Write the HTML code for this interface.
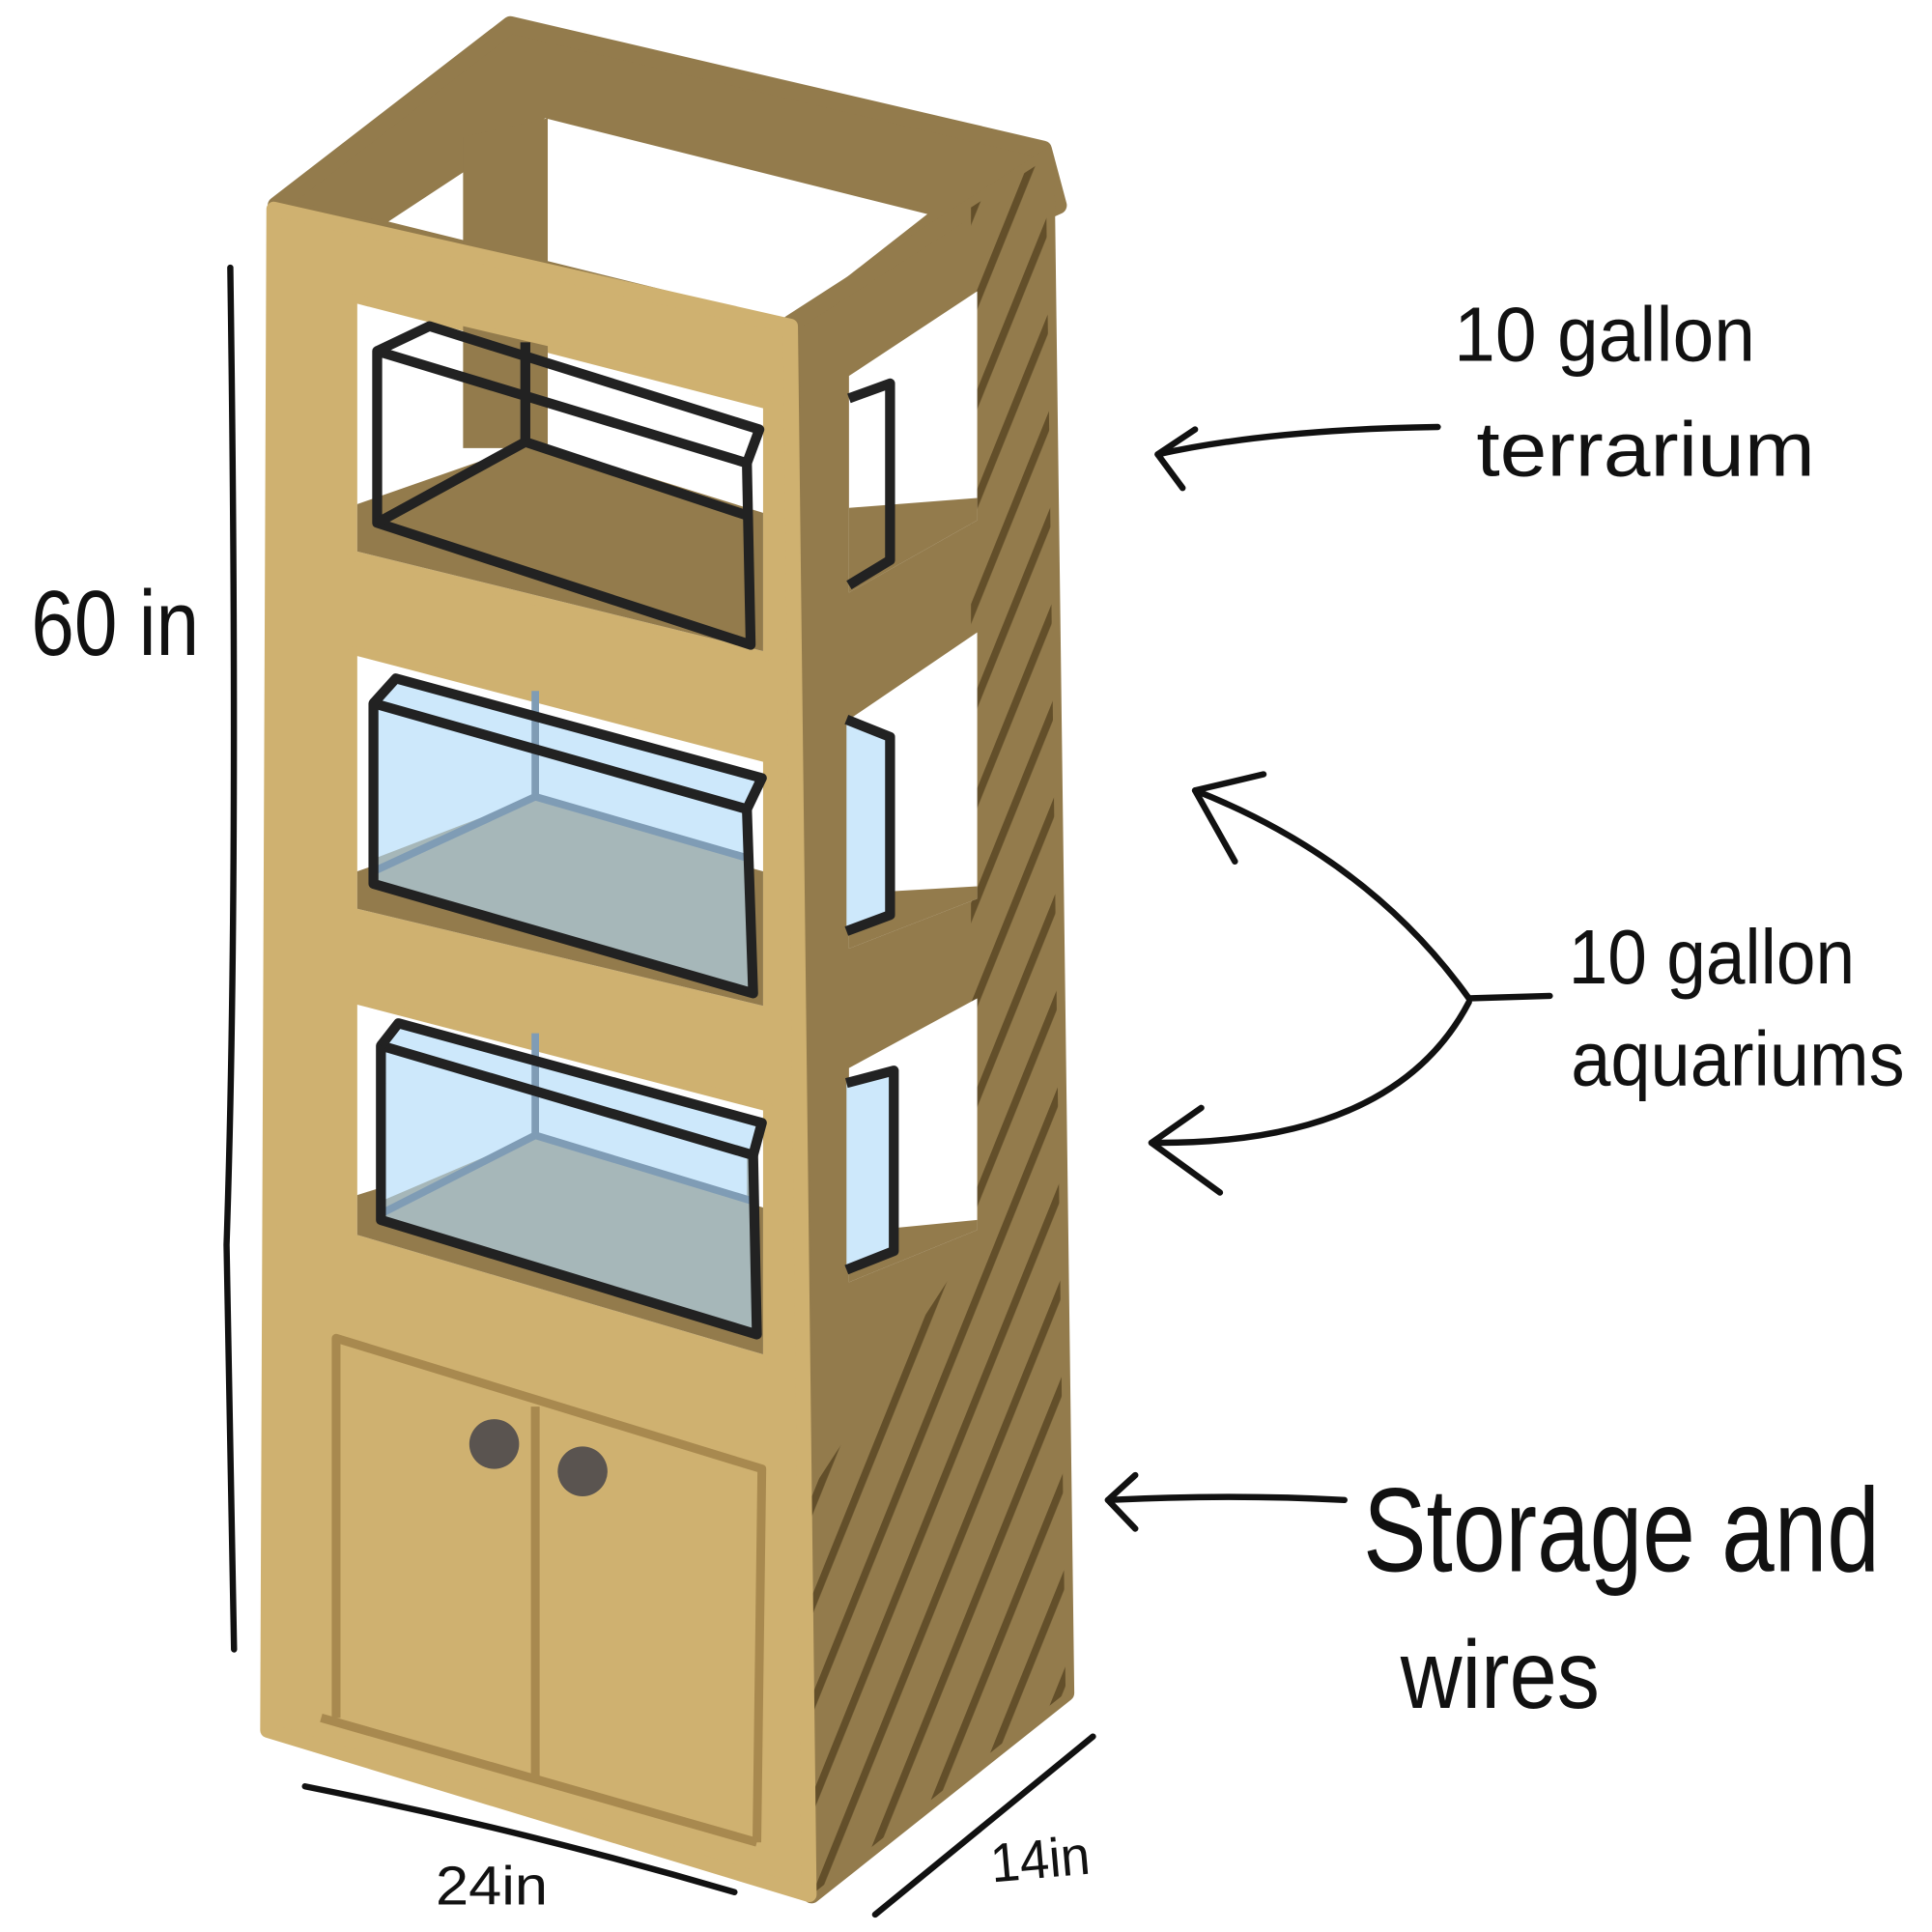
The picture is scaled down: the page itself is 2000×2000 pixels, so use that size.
<!DOCTYPE html>
<html><head><meta charset="utf-8"><style>
html,body{margin:0;padding:0;background:#fff;width:2000px;height:2000px;overflow:hidden}
svg{display:block}
text{font-family:"Liberation Sans",sans-serif;fill:#111}
</style></head><body>
<svg width="2000" height="2000" viewBox="0 0 1552 1552" xmlns="http://www.w3.org/2000/svg">
<defs>
<pattern id="hatch" width="30" height="30" patternUnits="userSpaceOnUse" patternTransform="rotate(22)">
<rect width="30" height="30" fill="#937b4c"/>
<line x1="8" y1="0" x2="8" y2="30" stroke="#5e4a26" stroke-width="6"/>
</pattern>
<clipPath id="sideclip"><polygon points="635,260 840,128 856,1360 652,1522"/></clipPath>
</defs>
<!-- top face -->
<polygon points="222,165 410,20 838,120 850,165 635,262" fill="#937b4c" stroke="#937b4c" stroke-width="14" stroke-linejoin="round"/>
<polygon points="312,178 438,95 745,172 635,258" fill="#fff"/>
<!-- back post -->
<polygon points="372,110 440,95 440,330 372,330" fill="#937b4c"/>
<!-- side face -->
<polygon points="635,260 840,128 856,1360 652,1522" fill="#937b4c" stroke="#937b4c" stroke-width="14" stroke-linejoin="round"/>
<g clip-path="url(#sideclip)">
<polygon points="780,130 860,130 860,1360 650,1540 650,1200 780,1000" fill="url(#hatch)" opacity="0.9"/>
</g>
<!-- side openings -->
<polygon points="682,302 785,234 785,418 682,476" fill="#fff"/>
<polygon points="682,408 785,400 785,418 682,476" fill="#937b4c"/>
<polygon points="682,578 785,508 785,722 682,762" fill="#fff"/>
<polygon points="682,718 785,712 785,722 682,762" fill="#937b4c"/>
<polygon points="682,858 785,802 785,988 682,1030" fill="#fff"/>
<polygon points="682,990 785,980 785,988 682,1030" fill="#937b4c"/>
<!-- front face -->
<path d="M220,168 L635,262 L650,1522 L215,1390 Z M285,242 L615,326 L615,525 L285,445 Z M285,525 L615,610 L615,810 L285,728 Z M285,805 L615,890 L615,1090 L285,990 Z" fill="#cfb170" fill-rule="evenodd" stroke="#cfb170" stroke-width="12" stroke-linejoin="round"/>
<!-- interiors -->
<polygon points="287,244 613,328 613,523 287,443" fill="#fff"/>
<polygon points="372,262 440,278 440,360 372,360" fill="#937b4c"/>
<polygon points="287,405 430,355 613,412 613,523 287,443" fill="#937b4c"/>
<polygon points="287,527 613,612 613,808 287,730" fill="#fff"/>
<polygon points="287,700 430,650 613,700 613,808 287,730" fill="#937b4c"/>
<polygon points="287,807 613,892 613,1088 287,992" fill="#fff"/>
<polygon points="287,960 430,915 613,970 613,1088 287,992" fill="#937b4c"/>
<!-- tank 1 (terrarium) -->
<g fill="none" stroke="#222" stroke-width="8" stroke-linejoin="round">
<polygon points="303,282 600,372 603,518 303,420"/>
<polyline points="303,282 345,262 610,345 600,372"/>
<line x1="422" y1="275" x2="422" y2="355"/><line x1="303" y1="420" x2="422" y2="355"/><line x1="422" y1="355" x2="603" y2="415"/>
<polyline points="682,320 715,308 715,450 682,470"/>
</g>
<!-- tank 2 -->
<polygon points="300,565 600,650 605,798 300,712" fill="#a6b7b9"/>
<polygon points="300,565 318,545 610,622 600,650" fill="#cde8fb"/>
<polygon points="300,565 600,650 600,690 430,640 300,690" fill="#cde8fb"/>
<polygon points="680,582 715,595 715,735 680,745" fill="#cde8fb"/>
<g fill="none" stroke="#7f9cb5" stroke-width="6"><line x1="430" y1="555" x2="430" y2="640"/><line x1="300" y1="700" x2="430" y2="640"/><line x1="430" y1="640" x2="603" y2="690"/></g>
<g fill="none" stroke="#222" stroke-width="8" stroke-linejoin="round">
<polygon points="300,565 600,650 605,798 300,710"/>
<polyline points="300,565 318,545 612,625 600,650"/>
<polyline points="680,578 715,592 715,735 680,748"/>
</g>
<!-- tank 3 -->
<polygon points="306,840 605,928 608,1072 306,982" fill="#a6b7b9"/>
<polygon points="306,840 600,928 600,965 430,912 306,965" fill="#cde8fb"/>
<polygon points="306,840 320,822 612,900 605,928" fill="#cde8fb"/>
<polygon points="680,868 718,860 718,1005 680,1020" fill="#cde8fb"/>
<g fill="none" stroke="#7f9cb5" stroke-width="6"><line x1="430" y1="830" x2="430" y2="912"/><line x1="306" y1="975" x2="430" y2="912"/><line x1="430" y1="912" x2="605" y2="965"/></g>
<g fill="none" stroke="#222" stroke-width="8" stroke-linejoin="round">
<polygon points="306,840 605,928 608,1072 306,980"/>
<polyline points="306,840 320,822 612,902 605,928"/>
<polyline points="680,870 718,860 718,1005 680,1020"/>
</g>
<!-- cabinet doors -->
<g fill="none" stroke="#a8894f" stroke-width="7" stroke-linejoin="round">
<polyline points="270,1380 270,1075 612,1180 608,1480"/>
<line x1="258" y1="1380" x2="608" y2="1480"/>
<line x1="430" y1="1130" x2="430" y2="1430"/>
</g>
<circle cx="397" cy="1160" r="20" fill="#5a5450"/>
<circle cx="468" cy="1182" r="20" fill="#5a5450"/>
<!-- annotation lines -->
<g fill="none" stroke="#111" stroke-width="5" stroke-linecap="round" stroke-linejoin="round">
<path d="M185,215 Q192,700 182,1000 Q185,1200 188,1325"/>
<path d="M245,1435 Q420,1470 590,1520"/>
<path d="M703,1538 L878,1395"/>
<path d="M1155,343 Q1020,345 930,365"/>
<path d="M960,345 L930,365 L950,392"/>
<path d="M1245,800 L1180,802 Q1100,690 960,635"/>
<path d="M1015,622 L960,635 L992,692"/>
<path d="M1180,805 Q1120,920 925,918"/>
<path d="M965,890 L925,918 L980,958"/>
<path d="M1080,1205 Q990,1200 890,1205"/>
<path d="M912,1185 L890,1205 L912,1228"/>
</g>
<!-- labels -->
<text x="1168" y="290" font-size="62" textLength="242" lengthAdjust="spacingAndGlyphs">10 gallon</text>
<text x="1186" y="382" font-size="62" textLength="272" lengthAdjust="spacingAndGlyphs">terrarium</text>
<text x="25" y="526" font-size="74" textLength="135" lengthAdjust="spacingAndGlyphs">60 in</text>
<text x="1260" y="790" font-size="62" textLength="230" lengthAdjust="spacingAndGlyphs">10 gallon</text>
<text x="1262" y="872" font-size="62" textLength="268" lengthAdjust="spacingAndGlyphs">aquariums</text>
<text x="1095" y="1262" font-size="96" textLength="415" lengthAdjust="spacingAndGlyphs">Storage and</text>
<text x="1125" y="1372" font-size="78" textLength="160" lengthAdjust="spacingAndGlyphs">wires</text>
<text x="350" y="1530" font-size="44" textLength="90" lengthAdjust="spacingAndGlyphs">24in</text>
<text x="797" y="1512" font-size="44" textLength="80" lengthAdjust="spacingAndGlyphs" transform="rotate(-5 797 1512)">14in</text>
</svg>
</body></html>
